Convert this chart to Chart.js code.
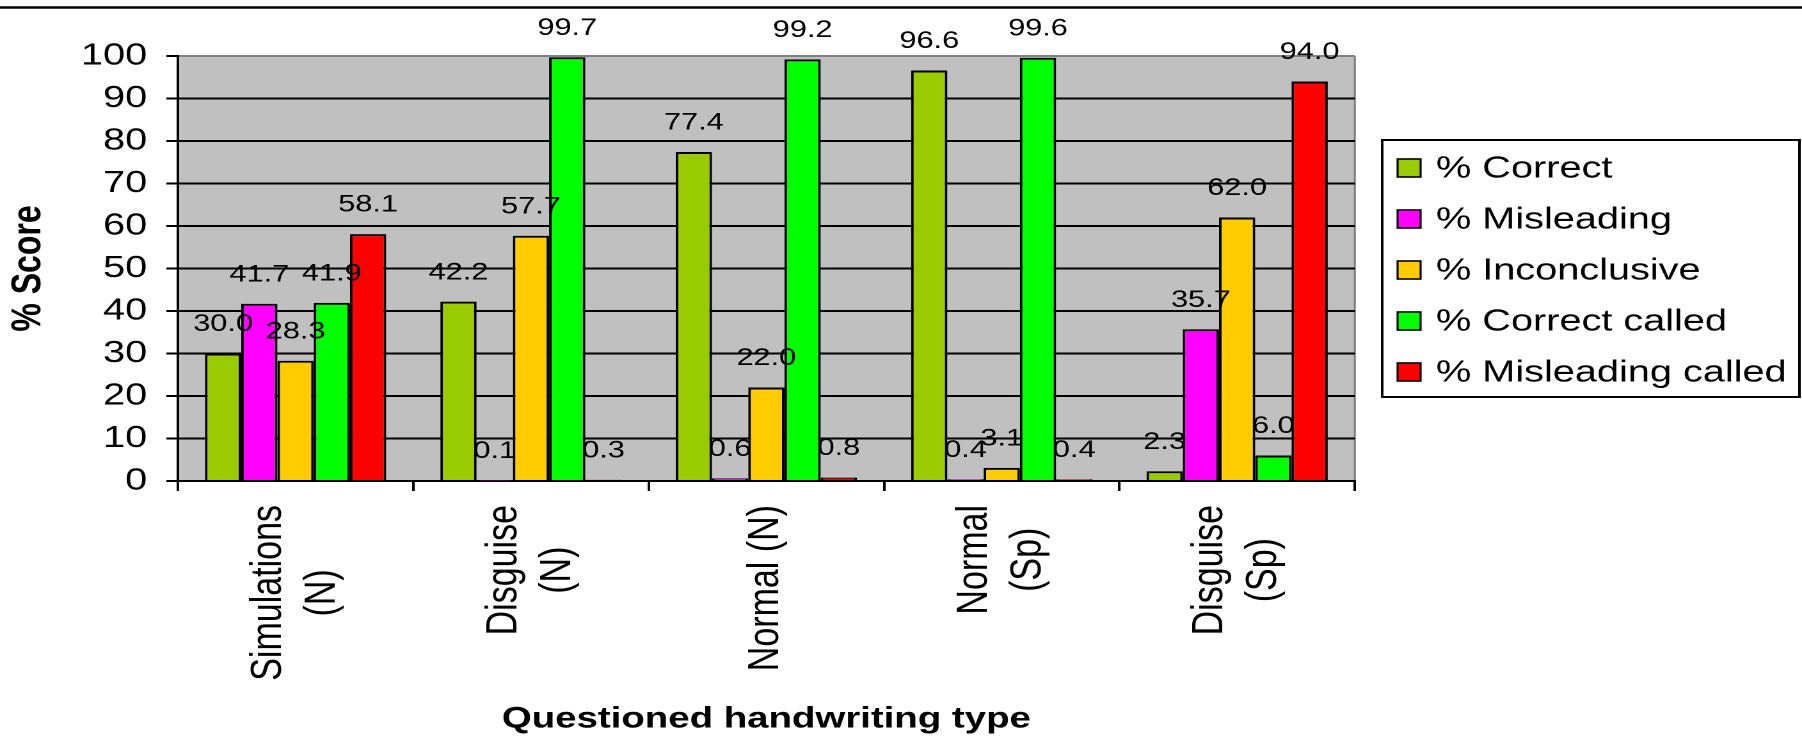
<!DOCTYPE html>
<html><head><meta charset="utf-8">
<script src="https://cdn.jsdelivr.net/npm/chart.js@4/dist/chart.umd.min.js"></script>
<style>
html,body{margin:0;padding:0;overflow:hidden;background:#fff;width:1802px;height:737px}
#wrap{position:absolute;left:0;top:0;width:1408px;height:737px;transform:scaleX(1.27983);transform-origin:0 0}
</style></head><body>
<div id="wrap"><canvas id="c"></canvas></div>
<script>
// ---- data ----
const categories = [["Simulations","(N)"],["Disguise","(N)"],["Normal (N)"],["Normal","(Sp)"],["Disguise","(Sp)"]];
const seriesNames = ["% Correct","% Misleading","% Inconclusive","% Correct called","% Misleading called"];
const correct          = [30.0, 42.2, 77.4, 96.6,  2.3];
const misleading       = [41.7,  0.1,  0.6,  0.4, 35.7];
const inconclusive     = [28.3, 57.7, 22.0,  3.1, 62.0];
const correctCalled    = [41.9, 99.7, 99.2, 99.6,  6.0];
const misleadingCalled = [58.1,  0.3,  0.8,  0.4, 94.0];
const yTickValues = [0,10,20,30,40,50,60,70,80,90,100];
const xTitle = "Questioned handwriting type";
const yTitle = "% Score";
const seriesColors = ["#99CC00","#FF00FF","#FFCC00","#00FF00","#FF0000"];

const FONT = '"Liberation Sans", Arial, sans-serif';
const seriesValues = [correct, misleading, inconclusive, correctCalled, misleadingCalled];

const bgPlugin = {
  id: 'bg',
  beforeDraw(chart) {
    const ctx = chart.ctx, a = chart.chartArea;
    ctx.save();
    ctx.fillStyle = '#fff';
    ctx.fillRect(0, 0, chart.width, chart.height);
    ctx.strokeStyle = '#000'; ctx.lineWidth = 2.5;
    ctx.beginPath(); ctx.moveTo(0, 7.5); ctx.lineTo(chart.width, 7.5); ctx.stroke();
    ctx.fillStyle = '#C0C0C0';
    ctx.fillRect(a.left, a.top, a.right - a.left, a.bottom - a.top);
    ctx.strokeStyle = '#808080'; ctx.lineWidth = 1.6;
    ctx.beginPath(); ctx.moveTo(a.right, a.top); ctx.lineTo(a.right, a.bottom); ctx.stroke();
    ctx.restore();
  }
};

const labelPlugin = {
  id: 'labels',
  afterDatasetsDraw(chart) {
    const ctx = chart.ctx;
    ctx.save();
    ctx.font = '24px ' + FONT;
    ctx.fillStyle = '#000';
    ctx.textAlign = 'center';
    ctx.textBaseline = 'middle';
    chart.data.datasets.forEach((ds, di) => {
      chart.getDatasetMeta(di).data.forEach((el, i) => {
        ctx.fillText(ds.data[i].toFixed(1), el.x, el.y - 29);
      });
    });
    ctx.restore();
  },
  afterDraw(chart) {
    const ctx = chart.ctx, xs = chart.scales.x;
    ctx.save();
    ctx.font = '34px ' + FONT;
    ctx.fillStyle = '#000';
    ctx.textAlign = 'center';
    ctx.textBaseline = 'middle';
    categories.forEach((lines, i) => {
      const cx = xs.getPixelForValue(i);
      const maxW = Math.max(...lines.map(l => ctx.measureText(l).width));
      const top = 505;
      lines.forEach((l, j) => {
        const off = (j - (lines.length - 1) / 2) * 42;
        ctx.save();
        ctx.translate(cx + off, top + maxW / 2);
        ctx.rotate(-Math.PI / 2);
        ctx.fillText(l, 0, 0);
        ctx.restore();
      });
    });
    const lx = 1080, ly = 140, lw = 326, lh = 257;
    ctx.strokeStyle = '#000'; ctx.lineWidth = 2;
    ctx.strokeRect(lx, ly, lw, lh);
    ctx.font = '31px ' + FONT;
    ctx.textAlign = 'left';
    chart.data.datasets.forEach((ds, di) => {
      const cy = 168 + di * 51;
      ctx.fillStyle = ds.backgroundColor;
      ctx.fillRect(1092, cy - 9, 18, 18);
      ctx.lineWidth = 1.6;
      ctx.strokeRect(1092, cy - 9, 18, 18);
      ctx.fillStyle = '#000';
      ctx.fillText(ds.label, 1122, cy + 1);
    });
    ctx.restore();
  }
};

new Chart(document.getElementById('c'), {
  type: 'bar',
  data: {
    labels: categories.map(c => c.join(' ')),
    datasets: seriesNames.map((n, i) => ({
      label: n,
      data: seriesValues[i],
      backgroundColor: seriesColors[i],
      borderColor: '#000',
      borderWidth: 2,
      categoryPercentage: 0.77,
      barPercentage: 1.0
    }))
  },
  options: {
    responsive: true,
    maintainAspectRatio: false,
    animation: false,
    devicePixelRatio: 2,
    layout: { padding: { top: 56, right: 349.4, bottom: 0, left: 0 } },
    plugins: { legend: { display: false }, tooltip: { enabled: false } },
    scales: {
      x: {
        afterFit: s => { s.height = 256; },
        ticks: { display: false },
        grid: { display: true, drawOnChartArea: false, offset: true, color: '#000', lineWidth: 2, tickLength: 10 },
        border: { display: true, color: '#000', width: 2 },
        title: { display: true, text: xTitle, color: '#000', font: { family: FONT, size: 30, weight: 'bold' }, padding: { top: 0, bottom: 0 } }
      },
      y: {
        min: 0, max: 100,
        afterFit: s => { s.width = 139; },
        afterBuildTicks: s => { s.ticks = yTickValues.map(v => ({ value: v })); },
        ticks: { color: '#000', padding: 15, font: { family: FONT, size: 31 } },
        grid: {
          color: c => (c.tick && c.tick.value === 100) ? '#808080' : '#000',
          tickColor: '#000', lineWidth: 2, tickLength: 9
        },
        border: { display: true, color: '#000', width: 2 },
        title: { display: true, text: yTitle, color: '#000', font: { family: FONT, size: 32, weight: 'bold' }, padding: { top: 3.5, bottom: 0 } }
      }
    }
  },
  plugins: [bgPlugin, labelPlugin]
});
</script>
</body></html>
